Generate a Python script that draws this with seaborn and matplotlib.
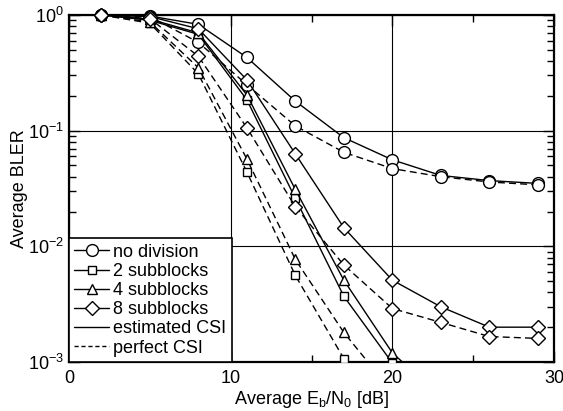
import matplotlib
matplotlib.use("Agg")
import matplotlib.pyplot as plt
import numpy as np
import pandas as pd
import seaborn as sns
from matplotlib.lines import Line2D
from matplotlib.patches import Rectangle
from matplotlib.ticker import LogLocator, MultipleLocator, NullFormatter

sns.set_theme(style="ticks")
plt.rcParams.update(
    {
        "font.family": ["Liberation Sans", "DejaVu Sans"],
        "mathtext.default": "regular",
        "font.size": 13,
        "text.color": "black",
        "axes.labelcolor": "black",
        "xtick.color": "black",
        "ytick.color": "black",
    }
)

# Eb/N0 points [dB]
snr = [2, 5, 8, 11, 14, 17, 20, 23, 26, 29]

# average BLER, estimated CSI (solid) / perfect CSI (dashed)
nodiv_est = [1.0, 0.98, 0.83, 0.43, 0.18, 0.087, 0.056, 0.041, 0.037, 0.035]
nodiv_perf = [1.0, 0.97, 0.58, 0.25, 0.11, 0.065, 0.047, 0.040, 0.036, 0.034]
sub2_est = [1.0, 0.90, 0.68, 0.185, 0.026, 0.0037, 0.00098, 0.0004]
sub2_perf = [1.0, 0.85, 0.31, 0.044, 0.0056, 0.00107, 0.0003]
sub4_est = [1.0, 0.92, 0.70, 0.204, 0.031, 0.0051, 0.0012, 0.0005]
sub4_perf = [1.0, 0.87, 0.35, 0.057, 0.0077, 0.0018, 0.00055]
sub8_est = [1.0, 0.97, 0.76, 0.275, 0.063, 0.0145, 0.0051, 0.0030, 0.0020, 0.0020]
sub8_perf = [1.0, 0.93, 0.44, 0.106, 0.022, 0.0069, 0.0029, 0.0022, 0.00166, 0.0016]

labels = ["no division", "2 subblocks", "4 subblocks", "8 subblocks"]
markers = ["o", "s", "^", "D"]
msizes = [8.5, 6, 7, 7]

series = [
    (nodiv_est, nodiv_perf),
    (sub2_est, sub2_perf),
    (sub4_est, sub4_perf),
    (sub8_est, sub8_perf),
]

fig = plt.figure(figsize=(5.63, 4.11), dpi=100)
ax = fig.add_axes([69 / 563, 1 - 362 / 411, (554 - 69) / 563, (362 - 15) / 411])

for (est, perf), mk, ms in zip(series, markers, msizes):
    for vals, ls in ((est, "-"), (perf, (0, (5, 3)))):
        df = pd.DataFrame({"snr": snr[: len(vals)], "bler": vals})
        sns.lineplot(
            data=df,
            x="snr",
            y="bler",
            ax=ax,
            color="black",
            lw=1.0,
            linestyle=ls,
            marker=mk,
            markersize=ms,
            markerfacecolor="white",
            markeredgecolor="black",
            markeredgewidth=1.0,
            zorder=3,
        )

# let the top markers stick out above the frame, but clip at the bottom
clip = Rectangle((0, 0), 1, 1.06, transform=ax.transAxes, fc="none", ec="none")
ax.add_patch(clip)
for ln in ax.lines:
    ln.set_clip_path(clip)

ax.set_yscale("log")
ax.set_xlim(0, 30)
ax.set_ylim(1e-3, 1)
ax.xaxis.set_major_locator(MultipleLocator(10))
ax.xaxis.set_minor_locator(MultipleLocator(5))
ax.yaxis.set_major_locator(LogLocator(base=10, numticks=10))
ax.yaxis.set_minor_locator(LogLocator(base=10, subs=np.arange(2, 10), numticks=20))
ax.yaxis.set_minor_formatter(NullFormatter())

ax.grid(which="major", color="black", lw=0.8)
ax.tick_params(which="both", direction="in", top=True, right=True, colors="black", labelsize=13)
ax.tick_params(which="major", length=8, width=1.0)
ax.tick_params(axis="x", which="major", pad=6)
ax.tick_params(which="minor", length=5, width=1.0)
for s in ax.spines.values():
    s.set_linewidth(1.6)
    s.set_color("black")

ax.set_xlabel("Average E$_b$/N$_0$ [dB]", fontsize=13, labelpad=1)
ax.set_ylabel("Average BLER", fontsize=13, labelpad=0)

handles = [
    Line2D([], [], color="black", lw=1.0, marker=mk, markersize=ms,
           markerfacecolor="white", markeredgecolor="black")
    for mk, ms in zip(markers, msizes)
]
handles += [
    Line2D([], [], color="black", lw=1.0),
    Line2D([], [], color="black", lw=1.0, linestyle=(0, (3, 2))),
]
leg = ax.legend(
    handles,
    labels + ["estimated CSI", "perfect CSI"],
    loc="lower left",
    bbox_to_anchor=(0, 0),
    fontsize=13,
    frameon=True,
    fancybox=False,
    borderaxespad=0,
    handlelength=1.9,
    handletextpad=0.25,
    labelspacing=0.12,
    borderpad=0.3,
)
leg.get_frame().set_edgecolor("black")
leg.get_frame().set_linewidth(1.2)
leg.get_frame().set_alpha(1)
for t in leg.get_texts():
    t.set_color("black")

fig.savefig("out.png", dpi=100)
